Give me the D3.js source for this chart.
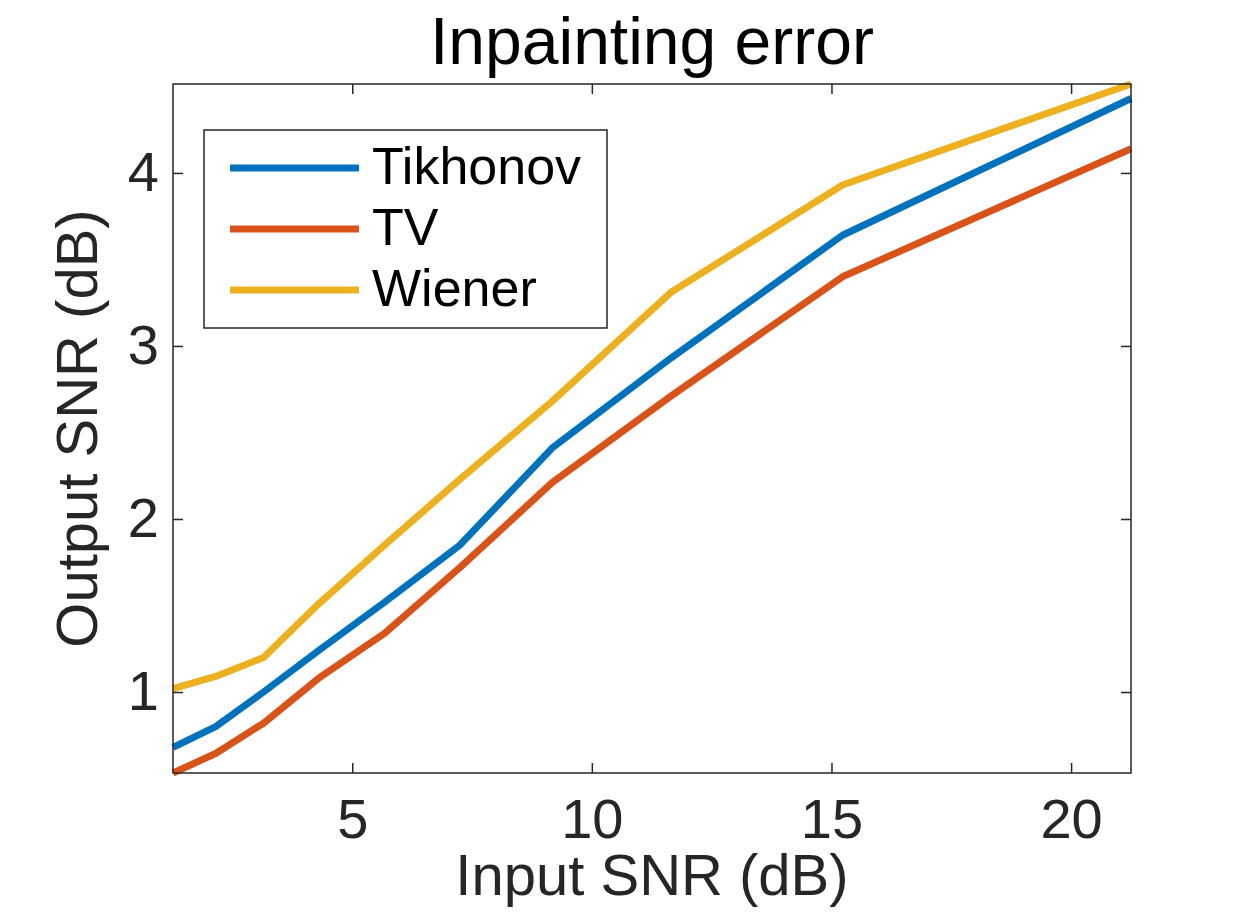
<!DOCTYPE html>
<html>
<head>
<meta charset="utf-8">
<script src="https://cdn.jsdelivr.net/npm/d3@7.9.0/dist/d3.min.js"></script>
<style>
  body { margin: 0; background: #fff; }
  text { font-family: "Liberation Sans", Arial, Helvetica, sans-serif; }
</style>
</head>
<body>
<svg id="chart" width="1250" height="917"></svg>
<script>
// values
const inputSNR = [1.26, 2.15, 3.15, 4.3, 5.68, 7.25, 9.17, 11.65, 15.23, 21.25];
const tikhonov = [0.68, 0.80, 1.00, 1.24, 1.52, 1.85, 2.41, 2.93, 3.64, 4.43];
const tv       = [0.532, 0.645, 0.82, 1.08, 1.34, 1.72, 2.21, 2.71, 3.40, 4.14];
const wiener   = [1.02, 1.09, 1.20, 1.51, 1.85, 2.23, 2.68, 3.31, 3.93, 4.514];
const seriesNames = ['Tikhonov', 'TV', 'Wiener'];
const xTicks = [5, 10, 15, 20];
const yTicks = [1, 2, 3, 4];

const seriesValues = [tikhonov, tv, wiener];
const colors = ['#0072BD', '#D95319', '#EDB120'];
const axisColor = '#262626';

const margin = { top: 84, right: 119, bottom: 144, left: 173 };
const width = 1250 - margin.left - margin.right;
const height = 917 - margin.top - margin.bottom;

const svg = d3.select('#chart');
const g = svg.append('g').attr('transform', `translate(${margin.left},${margin.top})`);

// axis tight, like the original
const x = d3.scaleLinear().domain(d3.extent(inputSNR)).range([0, width]);
const y = d3.scaleLinear().domain([d3.min(tv), d3.max(wiener)]).range([height, 0]);

const line = d3.line()
  .x((d, i) => x(inputSNR[i]))
  .y((d) => y(d));

seriesValues.forEach((vals, i) => {
  g.append('path')
    .datum(vals)
    .attr('d', line)
    .attr('fill', 'none')
    .attr('stroke', colors[i])
    .attr('stroke-width', 7)
    .attr('stroke-linejoin', 'round');
});

// box axes with inward ticks on all four sides
const tickLen = 10;
function styleAxis(sel) {
  sel.select('.domain').remove();
  sel.selectAll('line').attr('stroke', axisColor).attr('stroke-width', 1.5);
  sel.selectAll('text').attr('fill', axisColor);
}

g.append('g')
  .attr('transform', `translate(0,${height})`)
  .call(d3.axisBottom(x).tickValues(xTicks).tickSize(-tickLen).tickPadding(65).tickFormat(d3.format('d')))
  .call(styleAxis)
  .selectAll('text').attr('font-size', 56).attr('dy', 0);

g.append('g')
  .call(d3.axisTop(x).tickValues(xTicks).tickSize(-tickLen).tickFormat(''))
  .call(styleAxis);

g.append('g')
  .call(d3.axisLeft(y).tickValues(yTicks).tickSize(-tickLen).tickPadding(14).tickFormat(d3.format('d')))
  .call(styleAxis)
  .selectAll('text').attr('font-size', 56).attr('dy', '0.32em');

g.append('g')
  .attr('transform', `translate(${width},0)`)
  .call(d3.axisRight(y).tickValues(yTicks).tickSize(-tickLen).tickFormat(''))
  .call(styleAxis);

g.append('rect')
  .attr('width', width)
  .attr('height', height)
  .attr('fill', 'none')
  .attr('stroke', axisColor)
  .attr('stroke-width', 1.5);

// title and labels
svg.append('text')
  .attr('x', margin.left + width / 2)
  .attr('y', 64)
  .attr('text-anchor', 'middle')
  .attr('font-size', 66)
  .attr('fill', '#000')
  .text('Inpainting error');

svg.append('text')
  .attr('x', margin.left + width / 2)
  .attr('y', 895)
  .attr('text-anchor', 'middle')
  .attr('font-size', 58)
  .attr('fill', axisColor)
  .text('Input SNR (dB)');

svg.append('text')
  .attr('transform', `translate(97,${margin.top + height / 2}) rotate(-90)`)
  .attr('text-anchor', 'middle')
  .attr('font-size', 58)
  .attr('fill', axisColor)
  .text('Output SNR (dB)');

// legend
const legend = svg.append('g').attr('transform', 'translate(204,130)');
legend.append('rect')
  .attr('width', 403)
  .attr('height', 198)
  .attr('fill', '#fff')
  .attr('stroke', axisColor)
  .attr('stroke-width', 1.5);

seriesNames.forEach((name, i) => {
  const row = legend.append('g').attr('transform', `translate(0,${38 + i * 61})`);
  row.append('line')
    .attr('x1', 26).attr('x2', 155)
    .attr('stroke', colors[i])
    .attr('stroke-width', 7);
  row.append('text')
    .attr('x', 168)
    .attr('y', 0)
    .attr('dy', '0.3em')
    .attr('font-size', 52)
    .attr('fill', '#000')
    .text(name);
});
</script>
</body>
</html>
